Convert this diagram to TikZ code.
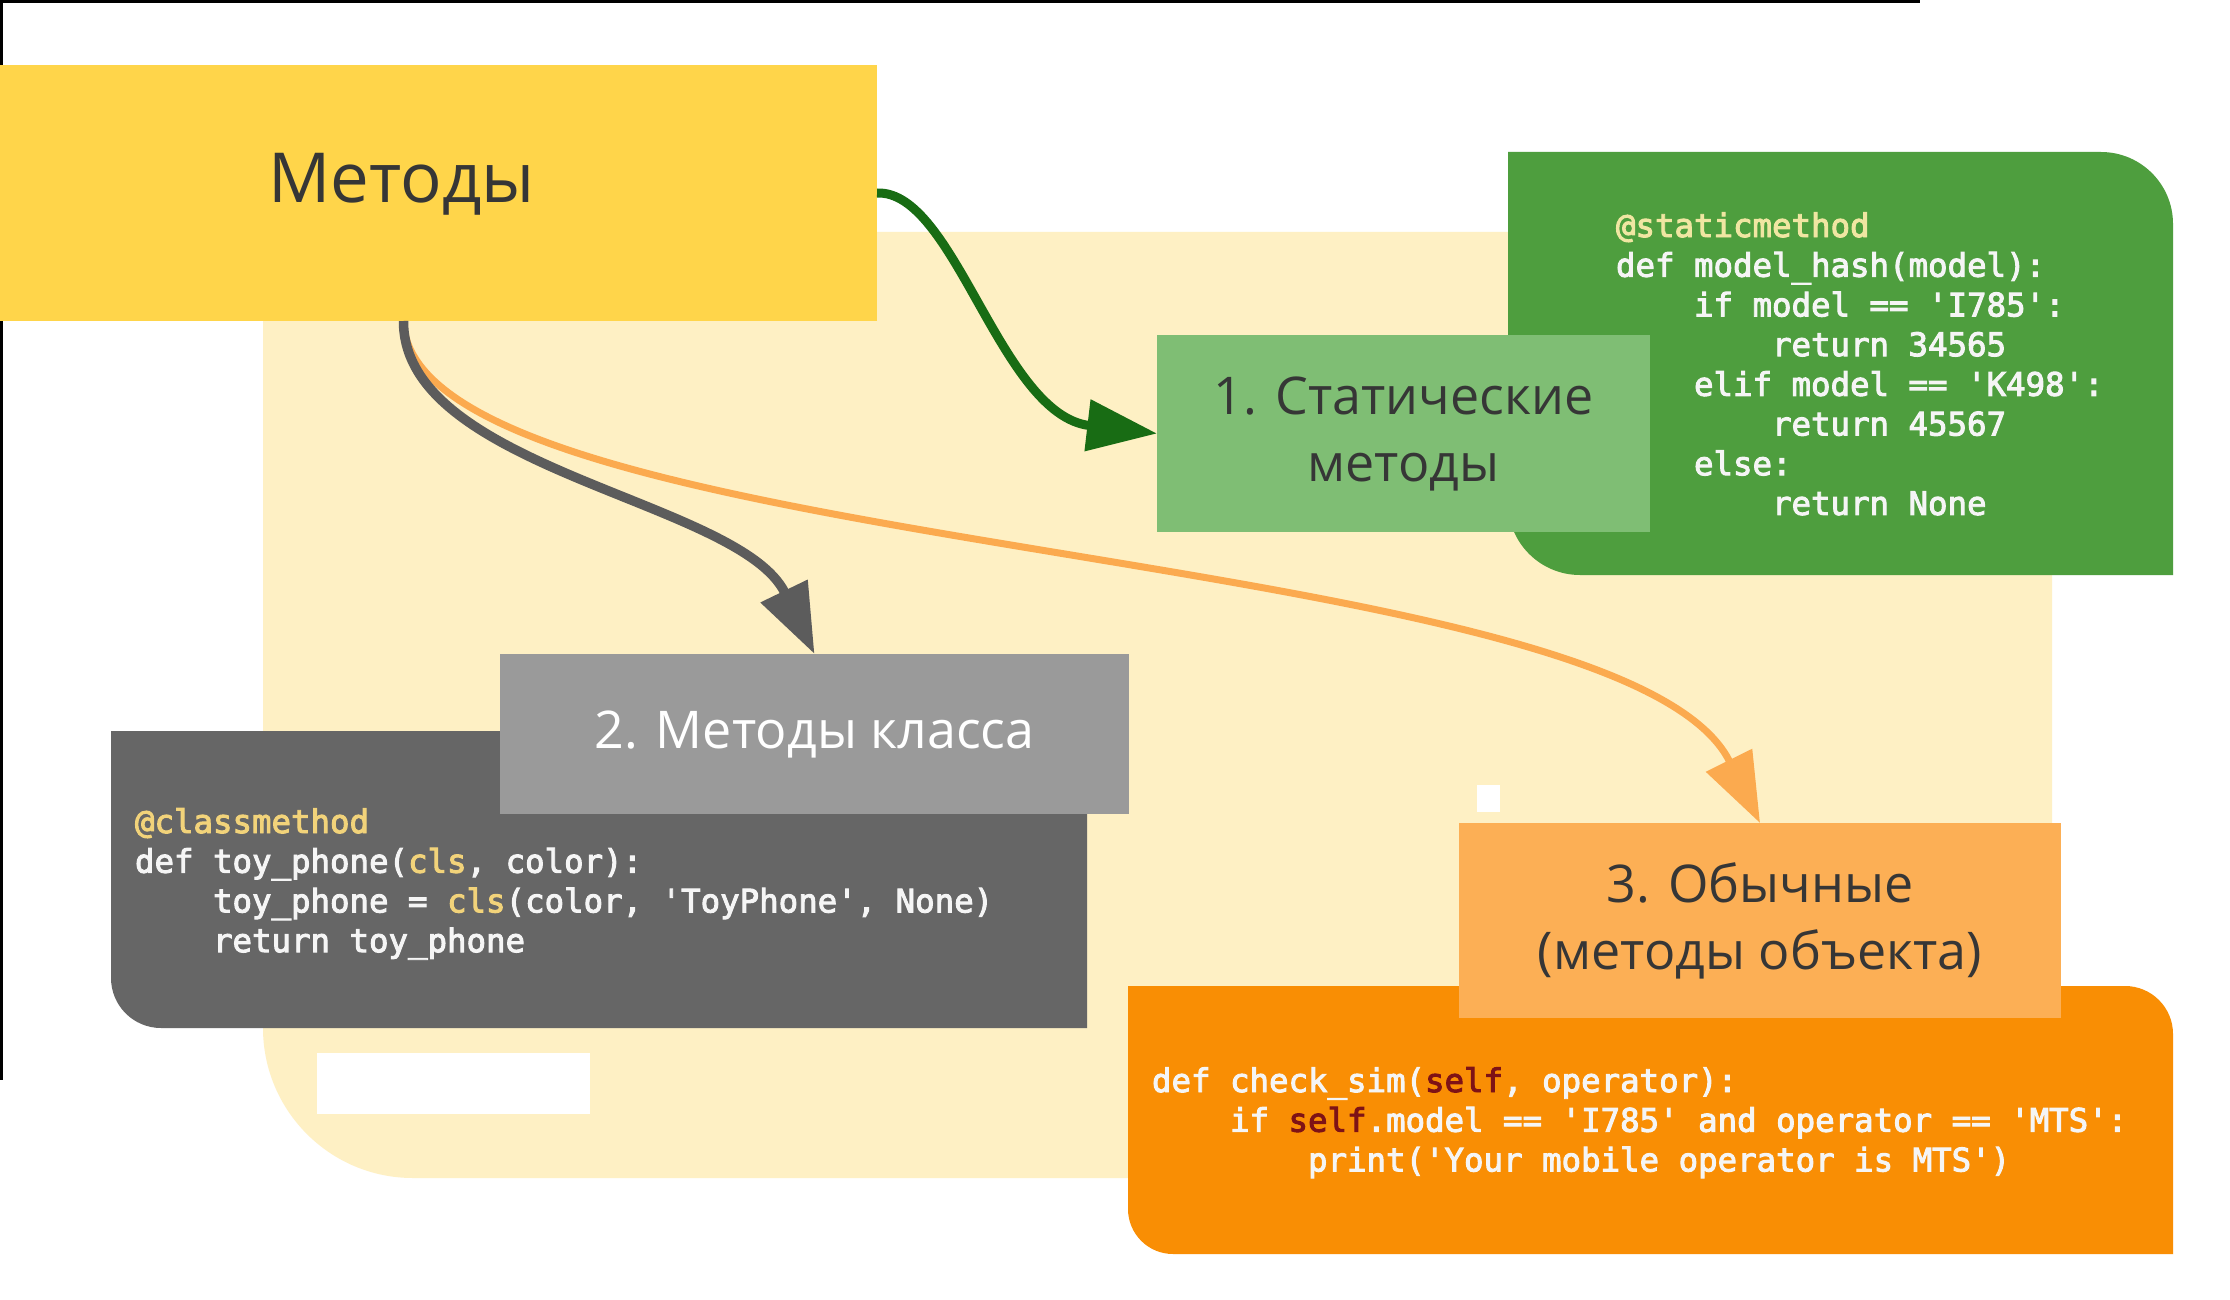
\documentclass[tikz,border=0pt]{standalone}
\usepackage{fontspec}
\setmainfont{Open Sans}
\setmonofont{DejaVu Sans Mono}[FakeBold=3]
\usetikzlibrary{arrows.meta}
\definecolor{ybox}{HTML}{FFD54A}
\definecolor{cream}{HTML}{FEF0C4}
\definecolor{cgreen}{HTML}{4E9E3E}
\definecolor{lgreen}{HTML}{7FBE74}
\definecolor{dgreen}{HTML}{186C14}
\definecolor{cgray}{HTML}{666666}
\definecolor{lgray}{HTML}{9A9A9A}
\definecolor{garrow}{HTML}{5C5C5C}
\definecolor{corange}{HTML}{F98E04}
\definecolor{lorange}{HTML}{FCAF55}
\definecolor{oarrow}{HTML}{FBAA4F}
\definecolor{txtdark}{HTML}{363636}
\definecolor{codewhite}{HTML}{F5F5F5}
\definecolor{ylwone}{HTML}{F0E6A2}
\definecolor{ylwtwo}{HTML}{F2D37A}
\definecolor{selfred}{HTML}{7E1216}
\tikzset{
  box/.style={inner sep=0pt, outer sep=0pt, draw=none},
  lbl/.style={box, align=center, font=\fontsize{52}{67}\selectfont, text=txtdark},
  code/.style={inner sep=0pt, outer sep=0pt, anchor=base west,
    font=\ttfamily\fontsize{32.4}{40}\selectfont, text=codewhite},
  arr/.style={-{Triangle[length=70pt,width=50pt]}},
}
\begin{document}
\begin{tikzpicture}[x=1pt,y=-1pt]
\fill[white] (0,0) rectangle (2230,1300);
\useasboundingbox (0,0) rectangle (2230,1300);
% screen border artefacts
\fill[black] (0,0) rectangle (1920,3);
\fill[black] (0,0) rectangle (3,1080);
% cream background
\fill[cream] (263,232) -- (2052,232) -- (2052,1178) -- (413,1178)
  arc[start angle=-90, end angle=-180, radius=150pt] -- cycle;
\fill[white] (317,1053) rectangle (590,1114);
\fill[white] (1477,785) rectangle (1500,812);
% title box
\node[box, fill=ybox, minimum width=877pt, minimum height=256pt, anchor=north west] (ybox) at (0,65) {};
\node[anchor=base west, inner sep=0pt, font=\fontsize{69}{80}\selectfont, text=txtdark] (ytxt) at (268,203) {Методы};
% green code box
\fill[cgreen] (1508,152) -- (2101,152) arc[start angle=90, end angle=0, radius=72pt]
  -- (2173,575) -- (1580,575) arc[start angle=-90, end angle=-180, radius=72pt] -- cycle;
\node[lbl, fill=lgreen, minimum width=493pt, minimum height=197pt] (slabel) at (1403.5,433.5) {1. Статические\\методы};
\node[code] (g1) at (1616,237) {\textcolor{ylwone}{@staticmethod}};
\node[code] (g2) at (1616,276.7) {def model\_hash(model):};
\node[code] (g3) at (1694,316.4) {if model == 'I785':};
\node[code] (g4) at (1772,356.1) {return 34565};
\node[code] (g5) at (1694,395.8) {elif model == 'K498':};
\node[code] (g6) at (1772,435.5) {return 45567};
\node[code] (g7) at (1694,475.2) {else:};
\node[code] (g8) at (1772,514.9) {return None};
% gray code box
\fill[cgray] (111,731) -- (1087,731) -- (1087,1028) -- (161,1028)
  arc[start angle=-90, end angle=-180, radius=50pt] -- cycle;
\node[lbl, fill=lgray, text=white, minimum width=629pt, minimum height=160pt] (glabel) at (814.5,734) {2. Методы класса};
\node[code] (k1) at (135,833) {\textcolor{ylwtwo}{@classmethod}};
\node[code] (k2) at (135,872.7) {def toy\_phone(\textcolor{ylwtwo}{cls}, color):};
\node[code] (k3) at (213,912.4) {toy\_phone = \textcolor{ylwtwo}{cls}(color, 'ToyPhone', None)};
\node[code] (k4) at (213,952.1) {return toy\_phone};
% orange code box
\fill[corange] (1128,986) -- (2125,986) arc[start angle=90, end angle=0, radius=48pt]
  -- (2173,1254) -- (1173,1254) arc[start angle=-90, end angle=-180, radius=45pt] -- cycle;
\node[lbl, fill=lorange, minimum width=602pt, minimum height=195pt] (olabel) at (1760,920.5) {3. Обычные\\(методы объекта)};
\node[code] (o1) at (1152,1092) {def check\_sim(\textcolor{selfred}{self}, operator):};
\node[code] (o2) at (1230,1131.7) {if \textcolor{selfred}{self}.model == 'I785' and operator == 'MTS':};
\node[code] (o3) at (1308,1171.4) {print('Your mobile operator is MTS')};
% arrows
\draw[arr, oarrow, line width=7pt] ([xshift=-35pt]ybox.south) .. controls (410,560) and (1620,540) .. (olabel.north);
\draw[arr, garrow, line width=9.5pt] ([xshift=-35pt]ybox.south) .. controls (403,470) and (740,500) .. (glabel.north);
\draw[arr, dgreen, line width=9pt] (ybox.east) .. controls (955,190) and (1000,415) .. (slabel.west);
\end{tikzpicture}
\end{document}
